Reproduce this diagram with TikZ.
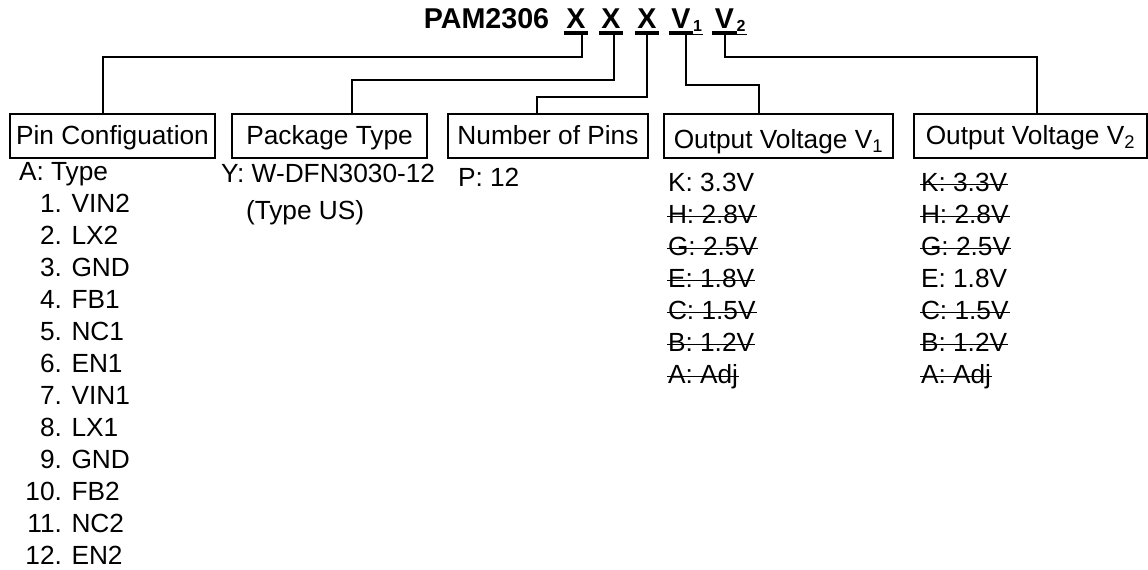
\documentclass[tikz,border=0pt]{standalone}
\usepackage{fontspec}
\setmainfont{Liberation Sans}

\tikzset{every picture/.style={line width=1.5pt}}
\tikzset{
  txt/.style={font=\fontsize{19.7}{24}\selectfont, inner sep=0pt, anchor=base west},
  ttl/.style={font=\fontsize{21.5}{26}\selectfont\bfseries, inner sep=0pt, anchor=base},
  subl/.style={font=\fontsize{12}{14}\selectfont\bfseries, inner sep=0pt, anchor=base west},
  sel/.style={draw, rectangle, inner sep=0pt, anchor=north west, minimum height=33pt,
    text height=22.5pt, text depth=10.5pt, font=\fontsize{19.7}{24}\selectfont},
  bar/.style={line width=3pt},
  cut/.style={line width=1.3pt}
}

\begin{document}
\begin{tikzpicture}[x=0.75pt,y=0.75pt,yscale=-1,xscale=1]
\useasboundingbox (0,0) rectangle (1148,569);

% Text Node
\node[ttl] (part) at (486.5,28) {PAM2306};
\node[ttl] (x1) at (576,28) {X};
\node[ttl] (x2) at (611,28) {X};
\node[ttl] (x3) at (647,28) {X};
\node[ttl] (v1) at (681,28) {V};
\node[subl] (v1sub) at ([shift={(0.5,3.5)}]v1.base east) {1};
\node[ttl] (v2) at (724.5,28) {V};
\node[subl] (v2sub) at ([shift={(0.5,3.5)}]v2.base east) {2};
% underlines
\foreach \k in {x1,x2,x3,v1,v2}
  \draw[bar] ([shift={(-1.5,5)}]\k.base west) -- ([shift={(1.5,5)}]\k.base east);
\foreach \k in {v1sub,v2sub}
  \draw[cut] ([shift={(0,3)}]\k.base west) -- ([shift={(0.5,3)}]\k.base east);

% Boxes
\node[sel, minimum width=153.75pt] (pin) at (9,113) {Pin Configuation};
\node[sel, minimum width=146.25pt] (pkg) at (231,113) {Package Type};
\node[sel, minimum width=150pt] (pins) at (447,113) {Number of Pins};
\node[sel, minimum width=171.75pt, text height=25.5pt, text depth=7.5pt] (vone) at (663,113) {Output Voltage V\textsubscript{1}};
\node[sel, minimum width=174.75pt] (vtwo) at (913,113) {Output Voltage V\textsubscript{2}};

% Connection
\draw ([shift={(6,5)}]x1.base) |- ([shift={(-9.5,-56)}]pin.north) -- ([shift={(-9.5,0)}]pin.north);
\draw ([shift={(3,5)}]x2.base) |- ([shift={(22.5,-33)}]pkg.north) -- ([shift={(22.5,0)}]pkg.north);
\draw ([shift={(0,5)}]x3.base) |- ([shift={(-11,-16)}]pins.north) -- ([shift={(-11,0)}]pins.north);
\draw ([shift={(5,5)}]v1.base) |- ([shift={(-19.5,-28)}]vone.north) -- ([shift={(-19.5,0)}]vone.north);
\draw ([shift={(0.5,5)}]v2.base) |- ([shift={(6,-56)}]vtwo.north) -- ([shift={(6,0)}]vtwo.north);

% Pin list
\node[txt] (ptype) at (18,180) {A: Type};
\foreach \pinname [count=\i] in {VIN2,LX2,GND,FB1,NC1,EN1,VIN1,LX1,GND,FB2,NC2,EN2} {
  \node[txt, anchor=base east] (pnum\i) at (63,{180+32*\i}) {\i.};
  \node[txt] (pname\i) at (70.5,{180+32*\i}) {\pinname};
}

% Package, pins
\node[txt] (pkgy) at (220,182) {Y: W-DFN3030-12};
\node[txt] (pkgus) at (245,219) {(Type US)};
\node[txt] (pinsp) at (457,186) {P: 12};

% Voltage lists
\foreach \volt/\off [count=\i from 0] in {K: 3.3V/0,H: 2.8V/1,G: 2.5V/1,E: 1.8V/1,C: 1.5V/1,B: 1.2V/1,A: Adj/1} {
  \node[txt] (vonel\i) at (667,{191+32*\i}) {\volt};
  \ifnum\off=1 \draw[cut] ([shift={(0,-6.5)}]vonel\i.base west) -- ([shift={(0,-6.5)}]vonel\i.base east); \fi
}
\foreach \volt/\off [count=\i from 0] in {K: 3.3V/1,H: 2.8V/1,G: 2.5V/1,E: 1.8V/0,C: 1.5V/1,B: 1.2V/1,A: Adj/1} {
  \node[txt] (vtwol\i) at (920,{191+32*\i}) {\volt};
  \ifnum\off=1 \draw[cut] ([shift={(0,-6.5)}]vtwol\i.base west) -- ([shift={(0,-6.5)}]vtwol\i.base east); \fi
}

\end{tikzpicture}
\end{document}
